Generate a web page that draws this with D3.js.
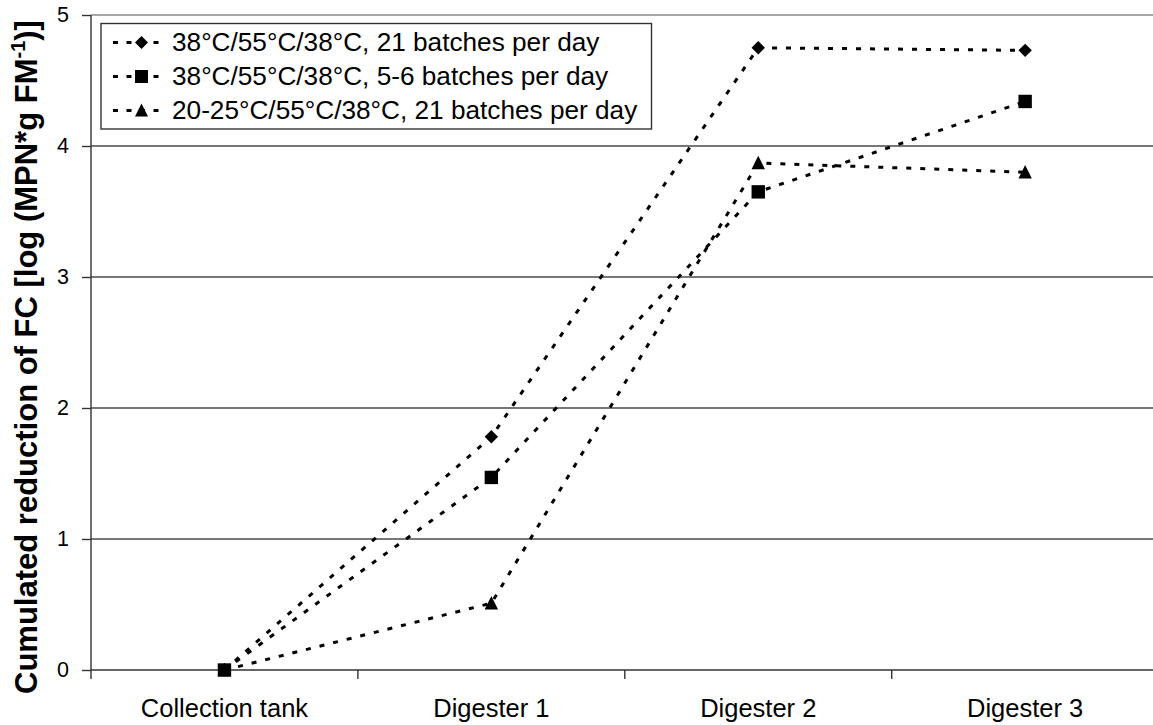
<!DOCTYPE html>
<html>
<head>
<meta charset="utf-8">
<script src="https://cdn.jsdelivr.net/npm/d3@7"></script>
<style>
  html, body { margin: 0; padding: 0; background: #fff; }
  svg { display: block; font-family: "Liberation Sans", Arial, sans-serif; }
</style>
</head>
<body>
<svg id="chart" width="1153" height="725"></svg>
<script>
// Treatment stages along the x axis
const stages = ["Collection tank", "Digester 1", "Digester 2", "Digester 3"];

// Cumulated log reduction of faecal coliforms per operating regime
const seriesNames = [
  "38°C/55°C/38°C, 21 batches per day",
  "38°C/55°C/38°C, 5-6 batches per day",
  "20-25°C/55°C/38°C, 21 batches per day"
];
const reduction21 = [0, 1.78, 4.75, 4.73];
const reduction56 = [0, 1.47, 3.65, 4.34];
const reductionCold = [0, 0.51, 3.87, 3.80];
const markerTypes = ["diamond", "square", "triangle"];

const yTicks = [0, 1, 2, 3, 4, 5];

const series = [reduction21, reduction56, reductionCold].map((vals, i) => ({
  name: seriesNames[i],
  marker: markerTypes[i],
  values: vals.map((v, j) => ({ stage: stages[j], value: v }))
}));

const svg = d3.select("#chart");
const plotLeft = 91, plotRight = 1158.6, plotTop = 15, plotBottom = 670;

const x = d3.scaleBand().domain(stages).range([plotLeft, plotRight]);
const y = d3.scaleLinear().domain([0, 5]).range([plotBottom, plotTop]);
const cx = s => x(s) + x.bandwidth() / 2;

// Horizontal gridlines (top one is the lighter plot-area border)
svg.append("g")
  .selectAll("line")
  .data(yTicks.filter(t => t > 0))
  .join("line")
  .attr("x1", plotLeft).attr("x2", plotRight)
  .attr("y1", d => y(d)).attr("y2", d => y(d))
  .attr("stroke", d => d === 5 ? "#8a8a8a" : "#4a4a4a")
  .attr("stroke-width", 1.4);

// Y axis
const yAxis = svg.append("g")
  .attr("transform", `translate(${plotLeft},0)`)
  .call(d3.axisLeft(y).tickValues(yTicks).tickSize(9).tickPadding(13).tickFormat(d3.format("d")));
yAxis.select(".domain").attr("stroke", "#333").attr("stroke-width", 1.4).attr("d", `M0,${plotTop}V${plotBottom}`);
yAxis.selectAll(".tick line").attr("stroke", "#333").attr("stroke-width", 1.4);
yAxis.selectAll(".tick text").attr("font-size", 21.5).attr("fill", "#000")
  .attr("font-family", "'Liberation Sans', Arial, sans-serif");

// X axis with ticks at band boundaries
const xAxisG = svg.append("g").attr("transform", `translate(0,${plotBottom})`);
xAxisG.append("line").attr("x1", plotLeft).attr("x2", plotRight).attr("y1", 0).attr("y2", 0)
  .attr("stroke", "#333").attr("stroke-width", 1.4);
xAxisG.selectAll("line.tk")
  .data(stages)
  .join("line").attr("class", "tk")
  .attr("x1", d => x(d)).attr("x2", d => x(d))
  .attr("y1", 0).attr("y2", 9)
  .attr("stroke", "#333").attr("stroke-width", 1.4);
xAxisG.selectAll("text")
  .data(stages)
  .join("text")
  .attr("x", d => cx(d))
  .attr("y", 47)
  .attr("text-anchor", "middle")
  .attr("font-size", 25.5)
  .text(d => d);

// Y axis title
const yTitle = svg.append("text")
  .attr("transform", `translate(37,357) rotate(-90)`)
  .attr("text-anchor", "middle")
  .attr("font-size", 31)
  .attr("font-weight", "bold");
yTitle.append("tspan").text("Cumulated reduction of FC [log (MPN*g FM");
yTitle.append("tspan").attr("dy", -12).attr("font-size", 20).text("-1");
yTitle.append("tspan").attr("dy", 12).text(")]");

// Marker shapes, r = half width
const markerPath = {
  diamond: r => `M0,${-r}L${r},0L0,${r}L${-r},0Z`,
  square: r => `M${-r},${-r}H${r}V${r}H${-r}Z`,
  triangle: r => `M0,${-r - 0.5}L${r},${r - 0.5}L${-r},${r - 0.5}Z`
};

const line = d3.line()
  .x(d => cx(d.stage))
  .y(d => y(d.value));

const plot = svg.append("g");
series.forEach(s => {
  plot.append("path")
    .datum(s.values)
    .attr("d", line)
    .attr("fill", "none")
    .attr("stroke", "#000")
    .attr("stroke-width", 3)
    .attr("stroke-dasharray", "5,9");
});
// Markers: triangles first so squares sit on top at the shared origin point
[2, 0, 1].forEach(i => {
  const s = series[i];
  plot.selectAll(null)
    .data(s.values)
    .join("path")
    .attr("transform", d => `translate(${cx(d.stage)},${y(d.value)})`)
    .attr("d", markerPath[s.marker](6.7))
    .attr("fill", "#000");
});

// Legend
const legend = svg.append("g");
legend.append("rect")
  .attr("x", 101).attr("y", 23.5).attr("width", 550.5).attr("height", 105.5)
  .attr("fill", "#fff").attr("stroke", "#333").attr("stroke-width", 1.4);
series.forEach((s, i) => {
  const cy = 42.5 + i * 34;
  legend.append("line")
    .attr("x1", 113).attr("x2", 165).attr("y1", cy).attr("y2", cy)
    .attr("stroke", "#000").attr("stroke-width", 3)
    .attr("stroke-dasharray", "5,8.5");
  legend.append("path")
    .attr("transform", `translate(141.5,${cy})`)
    .attr("d", markerPath[s.marker](6.5))
    .attr("fill", "#000");
  legend.append("text")
    .attr("x", 172).attr("y", cy + 8.5)
    .attr("font-size", 26.2)
    .text(s.name);
});
</script>
</body>
</html>
